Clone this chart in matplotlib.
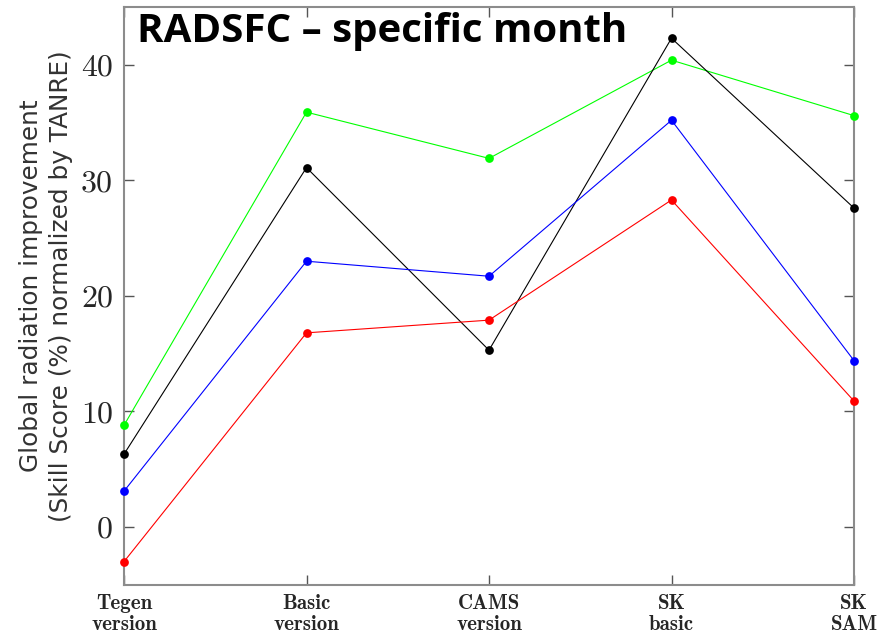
"""RADSFC - specific month: global radiation improvement per configuration."""
import matplotlib
matplotlib.use("Agg")
import matplotlib.pyplot as plt

configs = ["Tegen\nversion", "Basic\nversion", "CAMS\nversion", "SK\nbasic", "SK\nSAM"]
green_vals = [8.8, 35.9, 31.9, 40.4, 35.6]
black_vals = [6.3, 31.1, 15.3, 42.3, 27.6]
blue_vals = [3.1, 23.0, 21.7, 35.2, 14.4]
red_vals = [-3.0, 16.8, 17.9, 28.3, 10.9]
yticks = [0, 10, 20, 30, 40]

series = [(green_vals, "#00ff00"), (black_vals, "#000000"),
          (blue_vals, "#0000ff"), (red_vals, "#ff0000")]

fig = plt.figure(figsize=(8.96, 6.36), dpi=100)
ax = fig.add_axes([124 / 896, 1 - 584.75 / 636, 730 / 896, 577.75 / 636])

x = list(range(1, len(configs) + 1))
for vals, col in series:
    ax.plot(x, vals, "-", color=col, lw=0.8)
    ax.plot(x, vals, "o", color=col, ms=6.3, mec="none", clip_on=False, zorder=3)

ax.set_xlim(1, 5)
ax.set_ylim(-5, 45)
ax.set_xticks(x)
ax.set_xticklabels(configs, fontfamily="cmb10", fontsize=15, color="#262626",
                   linespacing=1.1)
ax.set_yticks(yticks)
ax.set_yticklabels([str(v) for v in yticks], fontfamily="cmr10", fontsize=23,
                   color="#262626")
for sp in ax.spines.values():
    sp.set_color("#8c8c8c")
    sp.set_linewidth(1.5)
ax.tick_params(direction="in", length=7, width=1, colors="#555555",
               top=True, right=True, labelcolor="#262626")
ax.tick_params(axis="x", pad=7)
ax.tick_params(axis="y", pad=8)

fig.text(137 / 896, 1 - 42 / 636, "RADSFC \u2013 specific month", fontsize=29,
         fontweight="bold", fontfamily="Open Sans", va="baseline", ha="left")
fig.text(46 / 896, 1 - 286 / 636,
         "Global radiation improvement\n(Skill Score (%) normalized by TANRE)",
         rotation=90, ha="center", va="center", multialignment="center",
         fontsize=17.8, color="#333333", fontfamily="DejaVu Sans", linespacing=1.35)

fig.savefig("out.png", dpi=100)
